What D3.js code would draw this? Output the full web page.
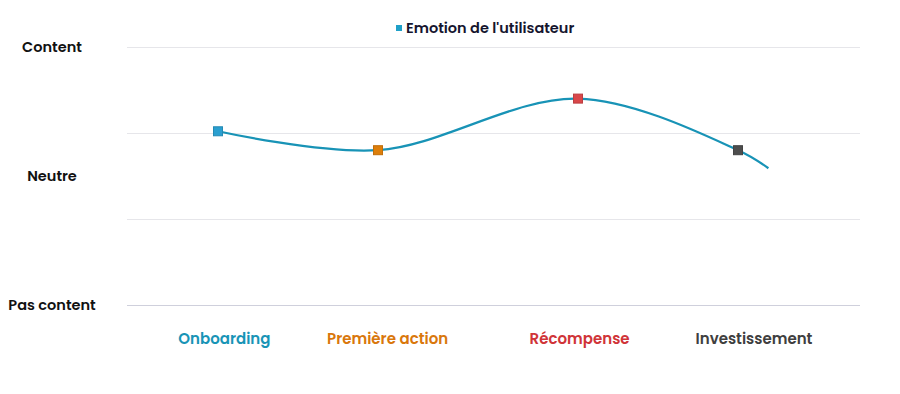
<!DOCTYPE html>
<html><head><meta charset="utf-8">
<script src="https://cdn.jsdelivr.net/npm/d3@7"></script>
<style>
body{margin:0;background:#fff;}
svg{display:block;font-family:Poppins,Inter,"Open Sans",sans-serif;}
</style></head>
<body><svg id="c" width="900" height="394"></svg>
<script>
const stages = ["Onboarding","Première action","Récompense","Investissement"];
const stageColors = ["#1894b6","#d9770c","#d03438","#3f3f3f"];
const markerColors = ["#2a9fd0","#dd7e0a","#d9474a","#4d4d4d"];
const stagePos = [0.5,1.5,2.75,3.75];
const labelPos = [0.54,1.56,2.76,3.85];
const emotion = [2.02,1.80,2.40,1.80];
const trailPos = 3.94, trailVal = 1.59;
const yTicks = [0,1,2,3];
const yLabels = [{v:3,t:"Content"},{v:1.5,t:"Neutre"},{v:0,t:"Pas content"}];
const seriesName = "Emotion de l'utilisateur";

const svg = d3.select("#c");
const x = d3.scaleLinear().domain([0,4]).range([138,778]);
const y = d3.scaleLinear().domain([0,3]).range([305,47]);

// gridlines
svg.append("g").selectAll("line").data(yTicks).join("line")
  .attr("x1",127).attr("x2",860)
  .attr("y1",d=>y(d)+0.5).attr("y2",d=>y(d)+0.5)
  .attr("stroke",d=>d===0?"#cfd0dc":"#e6e6ea").attr("stroke-width",1);

// y labels
svg.append("g").selectAll("text").data(yLabels).join("text")
  .attr("x",52).attr("y",d=>y(d.v)).attr("dy","0.35em")
  .attr("text-anchor","middle").attr("font-size",14.5).attr("font-weight",600)
  .attr("fill","#111").text(d=>d.t);

// x labels
svg.append("g").selectAll("text").data(stages).join("text")
  .attr("x",(d,i)=>x(labelPos[i])).attr("y",339).attr("dy","0.35em")
  .attr("text-anchor","middle").attr("font-size",15).attr("font-weight",600)
  .attr("fill",(d,i)=>stageColors[i]).text(d=>d);

// line
const pts = stagePos.map((p,i)=>[p,emotion[i]]).concat([[trailPos,trailVal]]);
const line = d3.line().x(d=>x(d[0])).y(d=>y(d[1])).curve(d3.curveCatmullRom.alpha(0.5));
svg.append("path").datum(pts).attr("d",line).attr("fill","none")
  .attr("stroke","#1893b6").attr("stroke-width",2.2);

// markers
svg.append("g").selectAll("rect").data(emotion).join("rect")
  .attr("x",(d,i)=>x(stagePos[i])-4.5).attr("y",d=>y(d)-4.5)
  .attr("width",9).attr("height",9)
  .attr("fill",(d,i)=>markerColors[i])
  .attr("stroke",(d,i)=>d3.color(markerColors[i]).darker(0.4)).attr("stroke-width",1);

// legend
const lg = svg.append("g");
lg.append("rect").attr("x",396).attr("y",25).attr("width",6).attr("height",6).attr("fill","#1fa0c8");
lg.append("text").attr("x",406).attr("y",28).attr("dy","0.35em")
  .attr("font-size",14.5).attr("font-weight",600).attr("fill","#15152e").text(seriesName);
</script></body></html>
